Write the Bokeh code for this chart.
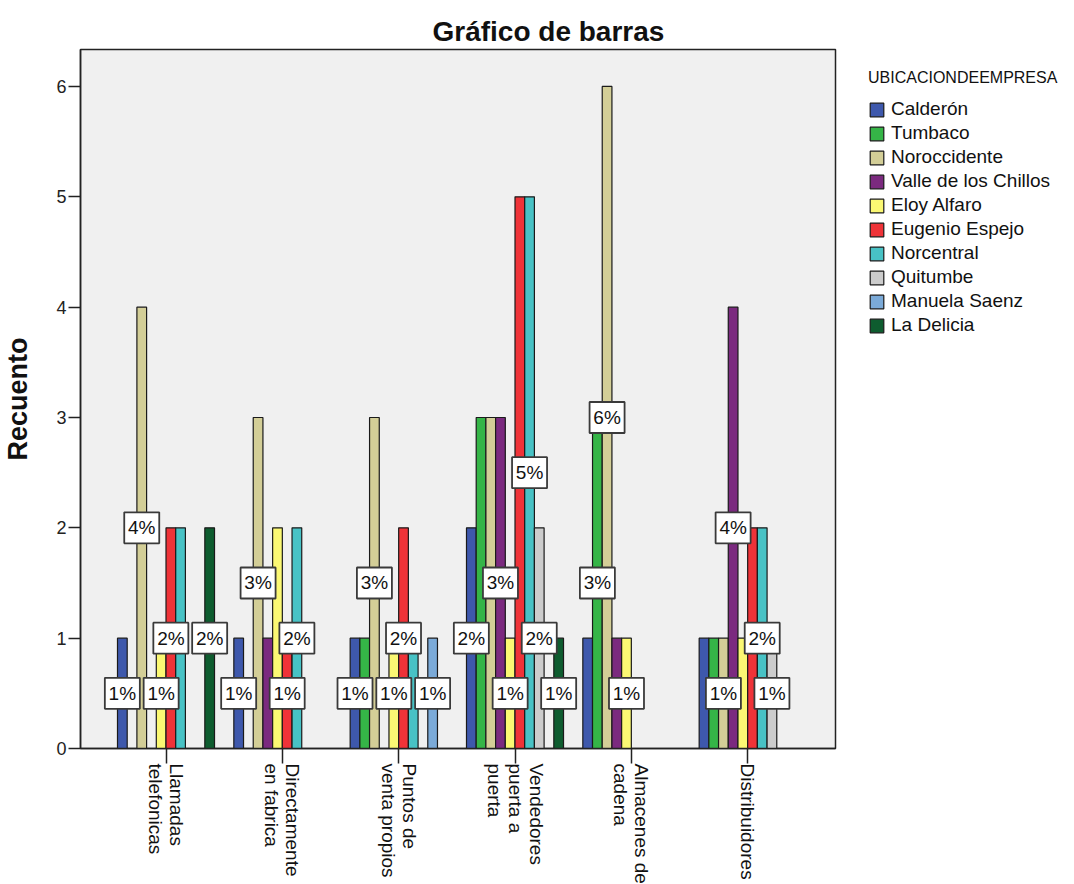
import numpy as np
from bokeh.plotting import figure
from bokeh.models import (ColumnDataSource, FixedTicker, Legend, LegendItem,
                          Range1d, Title)
from bokeh.embed import file_html
from bokeh.resources import INLINE

# ---------------- data ----------------
categories = ["Llamadas telefonicas", "Directamente en fabrica", "Puntos de venta propios",
              "Vendedores puerta a puerta", "Almacenes de cadena", "Distribuidores"]
category_labels = ["Llamadas\ntelefonicas", "Directamente\nen fabrica", "Puntos de\nventa propios",
                   "Vendedores\npuerta a\npuerta", "Almacenes de\ncadena", "Distribuidores"]

series = ["Calderón", "Tumbaco", "Noroccidente", "Valle de los Chillos", "Eloy Alfaro",
          "Eugenio Espejo", "Norcentral", "Quitumbe", "Manuela Saenz", "La Delicia"]

calderon   = [1, 1, 1, 2, 1, 1]
tumbaco    = [0, 0, 1, 3, 3, 1]
noroccid   = [4, 3, 3, 3, 6, 1]
valle      = [0, 1, 0, 3, 1, 4]
eloy       = [1, 2, 1, 1, 1, 1]
eugenio    = [2, 1, 2, 5, 0, 2]
norcentral = [2, 2, 1, 5, 0, 2]
quitumbe   = [0, 0, 0, 2, 0, 1]
manuela    = [0, 0, 1, 0, 0, 0]
delicia    = [2, 0, 0, 1, 0, 0]
counts = [calderon, tumbaco, noroccid, valle, eloy, eugenio, norcentral, quitumbe, manuela, delicia]

total_n = 100  # percentage base

# which percentage labels are visible (SPSS hides overlapping ones)
shown_labels = [
    ["Calderón", "Noroccidente", "Eloy Alfaro", "Eugenio Espejo", "La Delicia"],
    ["Calderón", "Noroccidente", "Eugenio Espejo", "Norcentral"],
    ["Calderón", "Noroccidente", "Eloy Alfaro", "Eugenio Espejo", "Manuela Saenz"],
    ["Calderón", "Valle de los Chillos", "Eloy Alfaro", "Norcentral", "Quitumbe", "La Delicia"],
    ["Tumbaco", "Noroccidente", "Eloy Alfaro"],
    ["Noroccidente", "Valle de los Chillos", "Norcentral", "Quitumbe"],
]

colors = ["#3E58AC", "#35B547", "#D3CE97", "#7B2A7F", "#FBF873",
          "#EF3338", "#48C2C5", "#CCCCCC", "#7BAAD8", "#0E5C2F"]

legend_title = "UBICACIONDEEMPRESA"

# ---------------- figure ----------------
FONT = "Liberation Sans"
bar_w = 0.0834
n_s = len(series)
x0, x1 = -0.735, 5.755
y0, y1 = 0, 6.335

p = figure(frame_width=755, frame_height=699,
           x_range=Range1d(x0, x1), y_range=Range1d(y0, y1),
           output_backend="svg", toolbar_location=None,
           min_border_left=70, min_border_top=49, min_border_bottom=120, min_border_right=8)
p.background_fill_color = "#F0F0F0"
p.border_fill_color = "white"
p.outline_line_color = "#222222"
p.outline_line_width = 1.5
p.xgrid.visible = False
p.ygrid.visible = False

p.add_layout(Title(text="Gráfico de barras", align="left", offset=352,
                   text_font=FONT, text_font_size="28px", text_font_style="bold",
                   text_color="#111111", standoff=5), "above")

# x axis
p.xaxis.ticker = FixedTicker(ticks=list(range(len(categories))))
p.xaxis.major_label_overrides = {i: lab for i, lab in enumerate(category_labels)}
p.xaxis.major_label_orientation = -np.pi / 2
p.xaxis.major_label_text_font = FONT
p.xaxis.major_label_text_font_size = "19px"
p.xaxis.major_label_text_line_height = 1.0
p.xaxis.major_label_text_color = "#111111"
p.xaxis.major_tick_out = 15
p.xaxis.major_tick_in = 0
p.xaxis.minor_tick_line_color = None
p.xaxis.major_label_standoff = 0
p.xaxis.axis_line_width = 1.5
p.xaxis.major_tick_line_width = 1.5
p.xaxis.axis_line_color = "#222222"
p.xaxis.major_tick_line_color = "#222222"

# y axis
p.yaxis.ticker = FixedTicker(ticks=[0, 1, 2, 3, 4, 5, 6])
p.yaxis.major_label_text_font = FONT
p.yaxis.major_label_text_font_size = "18px"
p.yaxis.major_label_text_color = "#222222"
p.yaxis.major_tick_out = 12
p.yaxis.major_tick_in = 0
p.yaxis.minor_tick_line_color = None
p.yaxis.major_label_standoff = 2
p.yaxis.axis_line_width = 1.5
p.yaxis.major_tick_line_width = 1.5
p.yaxis.axis_line_color = "#222222"
p.yaxis.major_tick_line_color = "#222222"
p.yaxis.axis_label = "Recuento"
p.yaxis.axis_label_text_font = FONT
p.yaxis.axis_label_text_font_size = "27px"
p.yaxis.axis_label_text_font_style = "bold"
p.yaxis.axis_label_text_color = "#111111"
p.yaxis.axis_label_standoff = 20

# bars
legend_items = []
lab_x, lab_y, lab_t = [], [], []
for s_idx, (name, vals, col) in enumerate(zip(series, counts, colors)):
    xs, tops = [], []
    for c_idx, v in enumerate(vals):
        xpos = c_idx + (s_idx - (n_s - 1) / 2) * bar_w
        if v > 0:
            xs.append(xpos)
            tops.append(v)
        if name in shown_labels[c_idx] and v > 0:
            lab_x.append(xpos)
            lab_y.append(v / 2)
            lab_t.append(f"{round(100 * v / total_n)}%")
    src = ColumnDataSource(dict(x=xs, top=tops))
    r = p.vbar(x="x", top="top", bottom=0, width=bar_w, source=src,
               fill_color=col, line_color="#1a1a1a", line_width=1.2)
    legend_items.append(LegendItem(label=name, renderers=[r]))

# percentage labels
lsrc = ColumnDataSource(dict(x=lab_x, y=lab_y, t=lab_t))
p.rect(x="x", y="y", width=35, height=31, width_units="screen", height_units="screen",
       source=lsrc, fill_color="white", line_color="#3a3a3a", line_width=1.8)
p.text(x="x", y="y", text="t", source=lsrc, text_align="center", text_baseline="middle",
       text_font={"value": FONT}, text_font_size={"value": "19px"}, text_color="#111111")

# legend in the right side panel
legend = Legend(items=legend_items, location=(33, 412),
                title=legend_title, title_text_font=FONT, title_text_font_size="16px",
                title_text_font_style="normal", title_text_color="#111111", title_standoff=11,
                glyph_width=17, glyph_height=17, label_standoff=6, spacing=2,
                padding=0, margin=0, border_line_color=None, background_fill_alpha=0,
                label_text_font=FONT, label_text_font_size="19px", label_text_color="#111111")
p.add_layout(legend, "right")

open("out.html", "w").write(file_html(p, INLINE))
